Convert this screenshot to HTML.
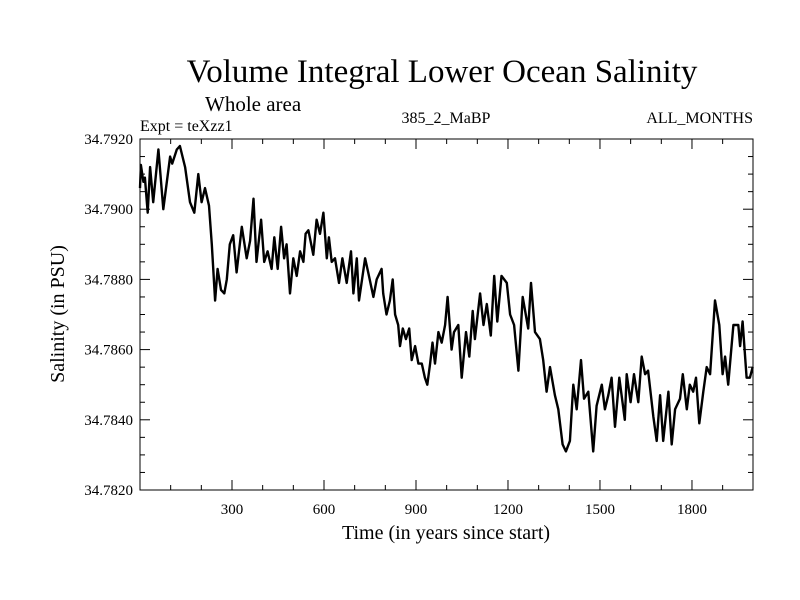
<!DOCTYPE html>
<html><head><meta charset="utf-8"><style>
body{margin:0;background:#fff}
svg{display:block;font-family:"Liberation Serif",serif}
</style></head><body>
<svg id="chart" width="800" height="600" viewBox="0 0 800 600">
<rect width="800" height="600" fill="#fff"/>
<text x="442" y="82" font-size="33" text-anchor="middle">Volume Integral Lower Ocean Salinity</text>
<text x="205" y="111" font-size="21">Whole area</text>
<text x="140" y="131" font-size="16">Expt = teXzz1</text>
<text x="446" y="123" font-size="16" text-anchor="middle">385_2_MaBP</text>
<text x="753" y="123" font-size="16" text-anchor="end">ALL_MONTHS</text>
<text x="446" y="539" font-size="20" text-anchor="middle">Time (in years since start)</text>
<text x="0" y="0" font-size="20" text-anchor="middle" transform="translate(64,314) rotate(-90)">Salinity (in PSU)</text>
<g id="axes"></g>
<g id="series"></g>
<rect x="140" y="139" width="613" height="351" fill="none" stroke="#000" stroke-width="1"/>
</svg>
<script>
const years=[0,3,11,16,25,33,43,60,76,98,105,120,130,147,163,177,190,201,212,225,234,245,253,264,275,283,293,304,315,332,348,359,370,380,395,405,416,429,438,449,460,470,478,489,500,511,522,533,540,549,565,576,587,598,609,616,625,636,649,660,674,688,696,707,714,734,744,761,772,788,793,804,815,824,832,842,848,857,867,878,886,897,908,919,929,937,946,954,962,973,984,995,1003,1016,1024,1038,1049,1063,1074,1085,1092,1109,1120,1131,1144,1155,1165,1179,1196,1207,1220,1234,1248,1266,1275,1288,1304,1315,1326,1337,1353,1364,1378,1389,1402,1413,1424,1438,1448,1462,1478,1489,1506,1516,1527,1538,1549,1563,1581,1587,1600,1611,1625,1636,1647,1657,1674,1685,1696,1706,1723,1734,1745,1761,1770,1783,1793,1804,1813,1824,1837,1848,1859,1875,1889,1900,1908,1918,1935,1951,1957,1965,1978,1989,1998];
const salinity=[34.7906,34.79126,34.79078,34.7909,34.7899,34.7912,34.7902,34.7917,34.7900,34.7915,34.7913,34.7917,34.7918,34.7912,34.7902,34.7899,34.7910,34.7902,34.7906,34.7901,34.7890,34.7874,34.7883,34.7877,34.7876,34.7880,34.7890,34.78926,34.7882,34.7895,34.7886,34.7891,34.7903,34.7885,34.7897,34.7885,34.7888,34.7883,34.7892,34.7883,34.7895,34.7886,34.7890,34.7876,34.7886,34.7881,34.7888,34.7885,34.7893,34.7894,34.7887,34.7897,34.7893,34.7899,34.7886,34.7892,34.7885,34.7886,34.7879,34.7886,34.7879,34.7888,34.7876,34.7886,34.7874,34.7886,34.7882,34.7875,34.7880,34.7883,34.7876,34.7870,34.7874,34.7880,34.7870,34.7867,34.7861,34.7866,34.7863,34.7866,34.7857,34.7861,34.7856,34.7856,34.7852,34.7850,34.7856,34.7862,34.7856,34.7865,34.7862,34.7867,34.7875,34.7860,34.7865,34.7867,34.7852,34.7865,34.7858,34.7871,34.7863,34.7876,34.7867,34.7873,34.7864,34.7881,34.7868,34.7881,34.7879,34.7870,34.7867,34.7854,34.7875,34.7866,34.7879,34.7865,34.7863,34.7857,34.7848,34.7855,34.7847,34.7843,34.7833,34.7831,34.7834,34.7850,34.7843,34.7857,34.7846,34.7848,34.7831,34.7844,34.7850,34.7843,34.7847,34.7852,34.7838,34.7852,34.7840,34.7853,34.7845,34.7853,34.7845,34.7858,34.7853,34.7854,34.7841,34.7834,34.7847,34.7834,34.7848,34.7833,34.7843,34.7846,34.7853,34.7843,34.7850,34.7848,34.7852,34.7839,34.7848,34.7855,34.7853,34.7874,34.7867,34.7853,34.7858,34.7850,34.7867,34.7867,34.7861,34.7868,34.7852,34.7852,34.7855];
const xTickLabels=["300","600","900","1200","1500","1800"];
const yTickLabels=["34.7820","34.7840","34.7860","34.7880","34.7900","34.7920"];
const X0=140,X1=753,Y0=490,Y1=139,XMIN=0,XMAX=1999,YMIN=34.782,YMAX=34.792;
const sx=v=>X0+(v-XMIN)/(XMAX-XMIN)*(X1-X0);
const sy=v=>Y0-(v-YMIN)/(YMAX-YMIN)*(Y0-Y1);
const NS="http://www.w3.org/2000/svg";
const axes=document.getElementById('axes');
function mk(tag,attrs,parent){const e=document.createElementNS(NS,tag);for(const k in attrs)e.setAttribute(k,attrs[k]);parent.appendChild(e);return e;}
for(let t=100;t<2000;t+=100){
  const major=t%300===0,L=major?10:5,x=sx(t);
  const a=mk('line',{x1:x,x2:x,y1:Y0,y2:Y0-L,stroke:'#000'},axes);
  
  
  const b=mk('line',{x1:x,x2:x,y1:Y1,y2:Y1+L,stroke:'#000'},axes);
  
  
}
xTickLabels.forEach(s=>{
  const t=mk('text',{x:sx(+s),y:514,'font-size':15,'text-anchor':'middle'},axes);t.textContent=s;
  
  
});
for(let i=1;i<20;i++){
  const v=YMIN+i*0.0005,major=i%4===0,L=major?10:5,y=sy(v);
  const a=mk('line',{x1:X0,x2:X0+L,y1:y,y2:y,stroke:'#000'},axes);
  
  
  const b=mk('line',{x1:X1,x2:X1-L,y1:y,y2:y,stroke:'#000'},axes);
  
  
}
yTickLabels.forEach(s=>{
  const t=mk('text',{x:133,y:sy(+s)+5,'font-size':15,'text-anchor':'end'},axes);t.textContent=s;
  
  
});
const d=years.map((y,i)=>(i?'L':'M')+sx(y).toFixed(1)+','+sy(salinity[i]).toFixed(1)).join('');
const p=mk('path',{d:d,fill:'none',stroke:'#000','stroke-width':2.4,'stroke-linejoin':'round'},document.getElementById('series'));


</script>
</body></html>
